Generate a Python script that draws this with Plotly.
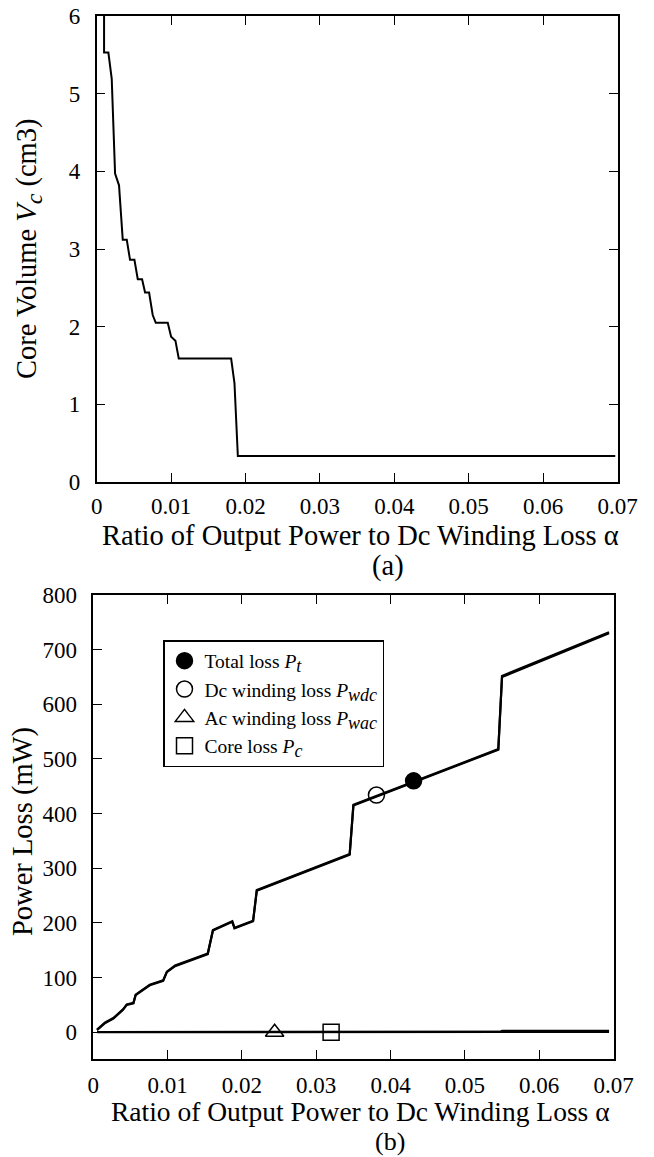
import plotly.graph_objects as go

# ---------------- data: (a) core volume vs alpha ----------------
alpha_v = [0.00099, 0.00099, 0.00157, 0.00202, 0.00247, 0.0030, 0.0035, 0.00404,
           0.00448, 0.00507, 0.00552, 0.0061, 0.0065, 0.00704, 0.00753, 0.00794,
           0.00955, 0.0100, 0.01058, 0.01103, 0.01807, 0.01852, 0.01897, 0.0697]
core_volume = [6.5, 5.53, 5.53, 5.19, 3.97, 3.82, 3.12, 3.12,
               2.86, 2.86, 2.61, 2.61, 2.44, 2.44, 2.15, 2.05,
               2.05, 1.87, 1.82, 1.59, 1.59, 1.27, 0.335, 0.335]

# ---------------- data: (b) power losses vs alpha ----------------
alpha_p = [0.0005, 0.0016, 0.0027, 0.0034, 0.0040, 0.0045, 0.0054, 0.0057, 0.0065,
           0.0076, 0.0094, 0.0099, 0.0110, 0.0154, 0.0161, 0.0184, 0.0187, 0.0190,
           0.0215, 0.0220, 0.0345, 0.0350, 0.0545, 0.0550, 0.0694]
total_loss = [5, 18, 26, 35, 42, 51, 54, 69, 77,
              87, 95, 111, 122, 144, 187, 200, 203, 191,
              204, 260, 326, 416, 518, 652, 732]
dc_winding_loss = [4, 17, 25, 34, 41, 50, 53, 68, 76,
                   86, 94, 110, 121, 143, 186, 199, 202, 190,
                   203, 259, 325, 415, 517, 650, 730]
alpha_small = [0.0005, 0.0548, 0.0550, 0.0694]
ac_winding_loss = [0.3, 0.5, 0.5, 0.6]
core_loss = [0.5, 0.6, 2.5, 2.5]

# single highlighted points used as series symbols
mark_alpha = {"Pt": 0.0431, "Pwdc": 0.0381, "Pwac": 0.0244, "Pc": 0.0320}
mark_value = {"Pt": 460, "Pwdc": 434, "Pwac": 0, "Pc": 0}

x_ticks = [0, 0.01, 0.02, 0.03, 0.04, 0.05, 0.06, 0.07]
x_tick_text = ["0", "0.01", "0.02", "0.03", "0.04", "0.05", "0.06", "0.07"]
vc_ticks = [0, 1, 2, 3, 4, 5, 6]
p_ticks = [0, 100, 200, 300, 400, 500, 600, 700, 800]

FONT = "Liberation Serif"
W, H = 654, 1157

fig = go.Figure()

fig.add_trace(go.Scatter(x=alpha_v, y=core_volume, mode="lines",
                         line=dict(color="black", width=2),
                         xaxis="x", yaxis="y", showlegend=False))

fig.add_trace(go.Scatter(x=alpha_p, y=dc_winding_loss, mode="lines",
                         line=dict(color="black", width=2.2),
                         xaxis="x2", yaxis="y2", showlegend=False))
fig.add_trace(go.Scatter(x=alpha_p, y=total_loss, mode="lines",
                         line=dict(color="black", width=2.2),
                         xaxis="x2", yaxis="y2", showlegend=False))
fig.add_trace(go.Scatter(x=alpha_small, y=ac_winding_loss, mode="lines",
                         line=dict(color="black", width=2.2),
                         xaxis="x2", yaxis="y2", showlegend=False))
fig.add_trace(go.Scatter(x=alpha_small, y=core_loss, mode="lines",
                         line=dict(color="black", width=2.2),
                         xaxis="x2", yaxis="y2", showlegend=False))


def sub(s, px):
    return "<sub><span style='font-size:%dpx'><i>%s</i></span></sub>" % (px, s)


names = {
    "Pt": "Total loss <i>P</i>" + sub("t", 18),
    "Pwdc": "Dc winding loss <i>P</i>" + sub("wdc", 18),
    "Pwac": "Ac winding loss <i>P</i>" + sub("wac", 18),
    "Pc": "Core loss <i>P</i>" + sub("c", 18),
}
symbols = {"Pt": "circle", "Pwdc": "circle-open", "Pwac": "triangle-up-open", "Pc": "square-open"}
for k in ["Pt", "Pwdc", "Pwac", "Pc"]:
    fig.add_trace(go.Scatter(
        x=[mark_alpha[k]], y=[mark_value[k]], mode="markers", name=names[k],
        marker=dict(symbol=symbols[k], size=16, color="black",
                    line=dict(color="black", width=1.5)),
        xaxis="x2", yaxis="y2", cliponaxis=False))

axis_common = dict(showline=True, linecolor="black", linewidth=1.5,
                   ticks="inside", ticklen=9, tickwidth=1.3, tickcolor="black",
                   showgrid=False, zeroline=False,
                   tickfont=dict(family=FONT, size=23, color="black"))

fig.update_layout(
    width=W, height=H,
    margin=dict(l=0, r=0, t=0, b=0),
    paper_bgcolor="white", plot_bgcolor="white",
    font=dict(family=FONT, color="black"),
    xaxis=dict(domain=[96.7 / W, 617.5 / W], range=[0, 0.07], anchor="y",
               tickvals=x_ticks, ticktext=x_tick_text, mirror="allticks",
               ticklabelstandoff=3, automargin=False, **axis_common),
    yaxis=dict(domain=[1 - 482 / H, 1 - 16 / H], range=[0, 6], anchor="x",
               tickvals=vc_ticks, mirror="allticks", ticklabelstandoff=10,
               automargin=False, **axis_common),
    xaxis2=dict(domain=[93.3 / W, 613.5 / W], range=[0, 0.07], anchor="y2",
                tickvals=x_ticks, ticktext=x_tick_text, mirror="allticks",
                ticklabelstandoff=5, automargin=False, **axis_common),
    yaxis2=dict(domain=[1 - 1058.5 / H, 1 - 595 / H], range=[-48, 800], anchor="x2",
                tickvals=p_ticks, mirror=True, ticklabelstandoff=10,
                automargin=False, **axis_common),
    legend=dict(x=163 / W, y=1 - 640 / H, xanchor="left", yanchor="top",
                bgcolor="white", bordercolor="black", borderwidth=1.5,
                font=dict(family=FONT, size=19.5, color="black"),
                itemwidth=30, tracegroupgap=0),
)

annotations = [
    dict(text="Core Volume <i>V</i>" + sub("c", 24) + " (cm3)", x=29 / W, y=1 - 249 / H,
         textangle=-90, size=28.5),
    dict(text="Ratio of Output Power to Dc Winding Loss α", x=360 / W, y=1 - 535 / H,
         size=28.5),
    dict(text="(a)", x=388 / W, y=1 - 566 / H, size=28.5),
    dict(text="Power Loss (mW)", x=23 / W, y=1 - 832 / H, textangle=-90, size=28.5),
    dict(text="Ratio of Output Power to Dc Winding Loss α", x=360 / W, y=1 - 1111 / H,
         size=27.5),
    dict(text="(b)", x=390 / W, y=1 - 1141 / H, size=26),
]
for a in annotations:
    size = a.pop("size")
    fig.add_annotation(xref="paper", yref="paper", showarrow=False,
                       xanchor="center", yanchor="middle",
                       font=dict(family=FONT, size=size, color="black"), **a)

fig.write_html("out.html",
               config={"displayModeBar": False, "staticPlot": False},
               post_script="document.body.style.margin='0px';"
                           "document.body.style.overflow='hidden';")
